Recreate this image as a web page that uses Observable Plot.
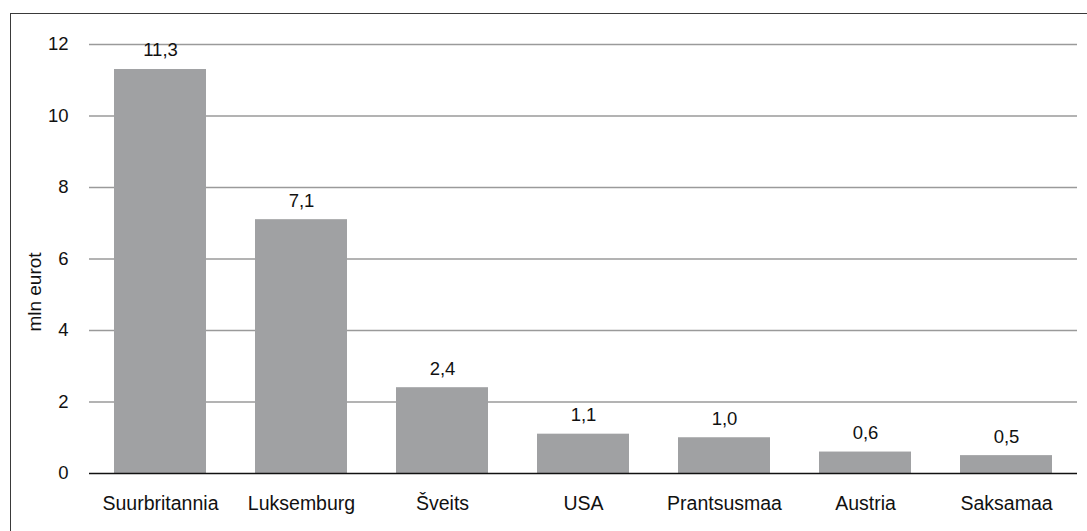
<!DOCTYPE html>
<html>
<head>
<meta charset="utf-8">
<script src="https://cdn.jsdelivr.net/npm/d3@7"></script>
<script src="https://cdn.jsdelivr.net/npm/@observablehq/plot@0.6"></script>
<style>
  html, body { margin: 0; padding: 0; background: #fff; overflow: hidden; width: 1087px; height: 531px; }
  #wrap { position: relative; width: 1087px; height: 531px; overflow: hidden; }
  #frame { position: absolute; left: 10px; top: 13px; width: 1200px; height: 700px; border: 1px solid #3a3a3a; box-sizing: border-box; }
  #chart { position: absolute; left: 0; top: 0; }
</style>
</head>
<body>
<div id="wrap"><div id="frame"></div><div id="chart"></div></div>
<script>
const countries = ["Suurbritannia", "Luksemburg", "Šveits", "USA", "Prantsusmaa", "Austria", "Saksamaa"];
const values = [11.3, 7.1, 2.4, 1.1, 1.0, 0.6, 0.5];
const yTicks = [0, 2, 4, 6, 8, 10, 12];
const yLabel = "mln eurot";

const data = countries.map((c, i) => ({country: c, value: values[i]}));
const fmt = v => v.toFixed(1).replace(".", ",");

const chart = Plot.plot({
  width: 1087,
  height: 531,
  marginLeft: 89,
  marginRight: 10,
  marginTop: 44,
  marginBottom: 58,
  style: {fontFamily: "'Liberation Sans', Arial, Helvetica, sans-serif", fontSize: "19px", color: "#111", background: "transparent"},
  x: {domain: countries, paddingInner: 0.35, paddingOuter: 0.175, label: null, tickSize: 0, tickPadding: 24},
  y: {domain: [0, 12], ticks: yTicks, label: null, tickSize: 0, tickPadding: 21},
  marks: [
    Plot.gridY(yTicks.filter(d => d > 0), {stroke: "#9a9a9a", strokeOpacity: 1, strokeWidth: 1.3}),
    Plot.barY(data, {x: "country", y: "value", fill: "#a0a1a3"}),
    Plot.ruleY([0], {stroke: "#111", strokeWidth: 1.3}),
    Plot.text(data, {x: "country", y: "value", text: d => fmt(d.value), dy: -19, fill: "#111", fontSize: 18.5}),
    Plot.axisY({ticks: yTicks, tickSize: 0, tickPadding: 21, label: null, tickFormat: d => String(d), fontSize: 18.5}),
    Plot.axisX({tickSize: 0, tickPadding: 23, label: null, fontSize: 19.5})
  ]
});

// y-axis title
d3.select(chart).append("text")
  .attr("transform", "translate(41,292) rotate(-90)")
  .attr("text-anchor", "middle")
  .attr("font-size", 19)
  .attr("fill", "#111")
  .text(yLabel);

document.getElementById("chart").appendChild(chart);
</script>
</body>
</html>
